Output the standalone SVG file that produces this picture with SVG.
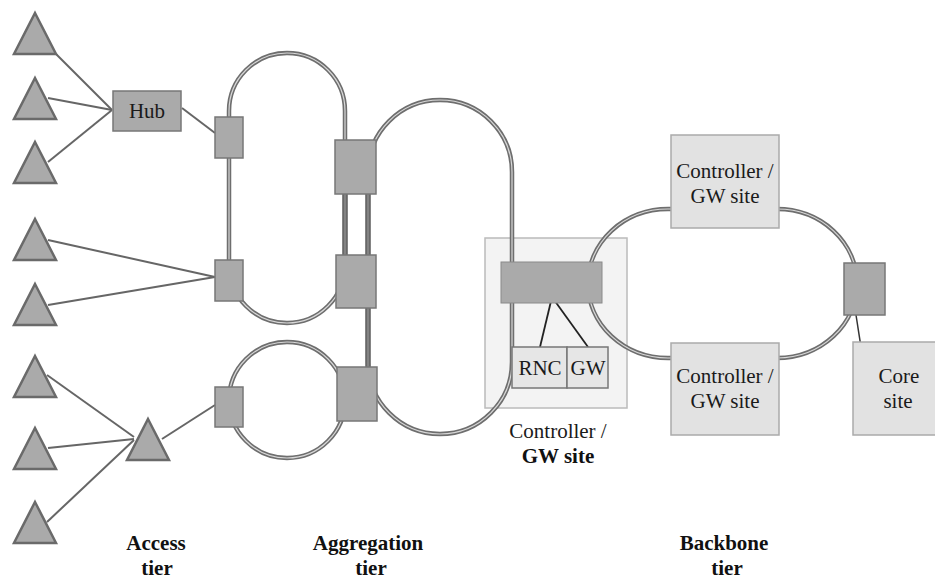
<svg xmlns="http://www.w3.org/2000/svg" width="935" height="579" viewBox="0 0 935 579">
<style>
text{font-family:"Liberation Serif","Times New Roman",serif;font-size:21px;fill:#1a1a1a;text-anchor:middle}
.b{font-weight:bold;fill:#111}
.tri{fill:#aaa;stroke:#6a6a6a;stroke-width:2.5;stroke-linejoin:miter}
.box{fill:#aaa;stroke:#777;stroke-width:1.5}
.lbox{fill:#e2e2e2;stroke:#aaa;stroke-width:1.5}
.spoke{stroke:#666;stroke-width:2;fill:none}
.ro{fill:none;stroke:#6e6e6e;stroke-width:4.5}
.ri{fill:none;stroke:#d8d8d8;stroke-width:1.2}
.to{fill:none;stroke:#686868;stroke-width:5.5}
.ti{fill:none;stroke:#929292;stroke-width:1.3}
</style>
<defs>
<path id="tr" d="M0,0 L21,41 L-21,41 Z"/>
<path id="loop1" d="M229,265 V111 A58,58 0 0 1 345,111 V265 A58,58 0 0 1 229,265 Z"/>
<path id="loop2" d="M368,362 V172 A72,72 0 0 1 512,172 V362 A72,72 0 0 1 368,362 Z"/>
<circle id="loop3" cx="287" cy="400" r="58"/>
<rect id="loop4" x="588" y="209" width="269" height="149" rx="80" ry="74.5"/>
<path id="links" d="M345,194 V255 M368,194 V367"/>
</defs>

<g id="controller-site-mid-bg">
<rect x="485" y="238" width="142" height="170" fill="#f3f3f3" stroke="#bbb" stroke-width="1.5"/>
</g>

<g id="connectors">
<line class="spoke" x1="56" y1="54" x2="112" y2="110"/>
<line class="spoke" x1="48" y1="98" x2="112" y2="110"/>
<line class="spoke" x1="48" y1="162" x2="112" y2="110"/>
<line class="spoke" x1="182" y1="108" x2="215" y2="133"/>
<line class="spoke" x1="48" y1="240" x2="215" y2="277"/>
<line class="spoke" x1="48" y1="305" x2="215" y2="277"/>
<line class="spoke" x1="47" y1="375" x2="134" y2="437"/>
<line class="spoke" x1="48" y1="448" x2="134" y2="439"/>
<line class="spoke" x1="47" y1="522" x2="134" y2="440"/>
<line class="spoke" x1="162" y1="439" x2="215" y2="405"/>
<line x1="552" y1="297" x2="540" y2="347" stroke="#222" stroke-width="1.8"/>
<line x1="552" y1="297" x2="588" y2="347" stroke="#222" stroke-width="1.8"/>
<line x1="856" y1="315" x2="863" y2="360" stroke="#333" stroke-width="1.5"/>
<use href="#loop1" class="ro"/><use href="#loop1" class="ri"/>
<use href="#loop2" class="ro"/><use href="#loop2" class="ri"/>
<use href="#loop3" class="ro"/><use href="#loop3" class="ri"/>
<use href="#loop4" class="ro"/><use href="#loop4" class="ri"/>
<use href="#links" class="to"/><use href="#links" class="ti"/>
</g>

<g id="tri1"><use href="#tr" class="tri" x="35" y="13"/></g>
<g id="tri2"><use href="#tr" class="tri" x="35" y="78"/></g>
<g id="tri3"><use href="#tr" class="tri" x="35" y="142"/></g>
<g id="tri4"><use href="#tr" class="tri" x="35" y="219"/></g>
<g id="tri5"><use href="#tr" class="tri" x="35" y="284"/></g>
<g id="tri6"><use href="#tr" class="tri" x="35" y="356"/></g>
<g id="tri7"><use href="#tr" class="tri" x="35" y="428"/></g>
<g id="tri8"><use href="#tr" class="tri" x="35" y="502"/></g>
<g id="tri-mid"><use href="#tr" class="tri" x="148" y="419"/></g>

<g id="hub"><rect class="box" x="113" y="91" width="68" height="40"/><text x="147" y="118">Hub</text></g>

<g id="agg1"><rect class="box" x="215" y="117" width="28" height="41"/></g>
<g id="agg2"><rect class="box" x="215" y="260" width="28" height="41"/></g>
<g id="agg3"><rect class="box" x="215" y="387" width="28" height="40"/></g>
<g id="agg4"><rect class="box" x="335" y="140" width="41" height="54"/></g>
<g id="agg5"><rect class="box" x="336" y="255" width="40" height="53"/></g>
<g id="agg6"><rect class="box" x="337" y="367" width="40" height="54"/></g>

<g id="controller-site-mid">
<rect x="501" y="262" width="101" height="41" fill="#aaa" stroke="#8a8a8a" stroke-width="1"/>
<rect x="512" y="347" width="55" height="41" fill="#e6e6e6" stroke="#777" stroke-width="1.5"/>
<rect x="567" y="347" width="41" height="41" fill="#e6e6e6" stroke="#777" stroke-width="1.5"/>
<text x="540" y="375">RNC</text>
<text x="588" y="375">GW</text>
<text x="558" y="438">Controller /</text>
<text x="558" y="463" class="b">GW site</text>
</g>

<g id="controller-site-top">
<rect class="lbox" x="671" y="135" width="108" height="93"/>
<text x="725" y="178">Controller /</text>
<text x="725" y="203">GW site</text>
</g>

<g id="controller-site-bottom">
<rect class="lbox" x="671" y="343" width="108" height="92"/>
<text x="725" y="383">Controller /</text>
<text x="725" y="408">GW site</text>
</g>

<g id="backbone-node"><rect class="box" x="844" y="263" width="41" height="52"/></g>

<g id="core-site">
<rect class="lbox" x="853" y="342" width="84" height="93"/>
<text x="899" y="383">Core</text>
<text x="898" y="408">site</text>
</g>

<g id="labels">
<text class="b" x="156" y="550">Access</text>
<text class="b" x="157" y="575">tier</text>
<text class="b" x="368" y="550">Aggregation</text>
<text class="b" x="371" y="575">tier</text>
<text class="b" x="724" y="550">Backbone</text>
<text class="b" x="727" y="575">tier</text>
</g>
</svg>
